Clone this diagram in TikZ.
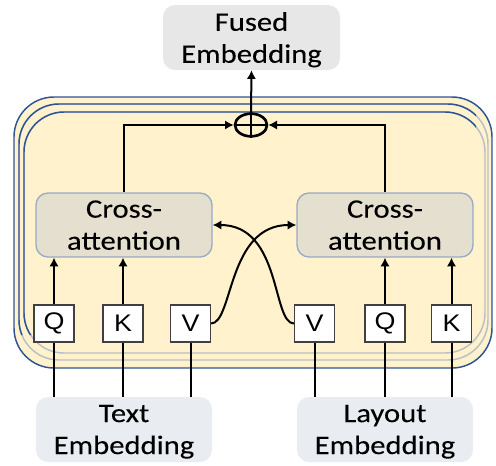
\documentclass[tikz,border=0pt]{standalone}
\usepackage{fontspec}
\setmainfont{Carlito}[FakeStretch=1.15,FakeBold=0.1]
\newfontfamily\letterfont{Liberation Sans}[FakeStretch=1.12]
\usetikzlibrary{arrows.meta,shapes.geometric}
\definecolor{framefill}{HTML}{FFF2CC}
\definecolor{frameblue}{HTML}{2F5597}
\definecolor{framegray}{HTML}{BABFC4}
\definecolor{attfill}{HTML}{E4DFCE}
\definecolor{attline}{HTML}{97AAC6}
\definecolor{fusedfill}{HTML}{E7E7E7}
\definecolor{embfill}{HTML}{E9ECF1}
\definecolor{qkvline}{HTML}{404040}
\begin{document}
\begin{tikzpicture}[x=0.75pt,y=-0.75pt,
  box/.style={rounded corners=9pt,minimum width=132pt,minimum height=48pt,align=center,inner sep=0pt,text depth=0pt,font=\fontsize{20}{24}\selectfont},
  att/.style={box,fill=attfill,draw=attline,line width=1pt},
  emb/.style={box,fill=embfill,minimum height=48.75pt},
  qkv/.style={draw=qkvline,fill=white,line width=0.8pt,minimum width=30pt,minimum height=27.75pt,inner sep=0pt,font=\letterfont\fontsize{18}{18}\selectfont},
  arr/.style={line width=1.5pt,-{Latex[length=6.5pt,width=7pt]}},
  wire/.style={line width=1.5pt},
  frame/.style={rounded corners=30pt,line width=1.1pt}]
\useasboundingbox (0,0) rectangle (496,465);
\draw[frame,fill=framefill,draw=frameblue](14,97) rectangle (492,368);
\foreach \a/\b/\c/\d in {19/104/488/360,24/112/485/353}{
  \draw[frame,fill=framefill,draw=framegray](\a,\b) rectangle (\c,\d);
  \begin{scope}
    \clip (0,0) rectangle (476,130) (0,0) rectangle (60,335);
    \draw[frame,draw=frameblue](\a,\b) rectangle (\c,\d);
  \end{scope}
}
\draw(251.5,37.5) node[box,fill=fusedfill,minimum width=132.75pt,minimum height=48.75pt](fused){Fused\\Embedding};
\draw(251,125) node[ellipse,draw,line width=2pt,minimum width=24pt,minimum height=17pt,inner sep=0pt](plus){};
\draw[line width=2pt](plus.north)--(plus.south);
\draw[line width=2pt](plus.west)--(plus.east);
\draw(124,225) node[att](ca1){Cross-\\attention};
\draw(385,225) node[att](ca2){Cross-\\attention};
\draw(54,323.5) node[qkv](q1){Q};
\draw(123,323.5) node[qkv](k1){K};
\draw(190.5,323.5) node[qkv](v1){V};
\draw(314.5,323.5) node[qkv](v2){V};
\draw(385,323.5) node[qkv](q2){Q};
\draw(451.5,323.5) node[qkv](k2){K};
\draw(124,429.5) node[emb](txt){Text\\Embedding};
\draw(385,429.5) node[emb](lay){Layout\\Embedding};
\draw[arr](plus.north)--(fused.south);
\draw[arr](ca1.north)|-(plus.west);
\draw[arr](ca2.north)|-(plus.east);
\foreach \n/\c in {q1/ca1,k1/ca1,q2/ca2,k2/ca2}
  \draw[arr](\n.north)--(\n.north|-\c.south);
\foreach \n/\e in {q1/txt,k1/txt,v1/txt,v2/lay,q2/lay,k2/lay}
  \draw[wire](\n.south|-\e.north)--(\n.south);
\draw[arr](v1.east) .. controls +(22,0) and +(-69,0) .. (ca2.west);
\draw[arr](v2.west) .. controls +(-22,0) and +(69,0) .. (ca1.east);
\end{tikzpicture}
\end{document}
